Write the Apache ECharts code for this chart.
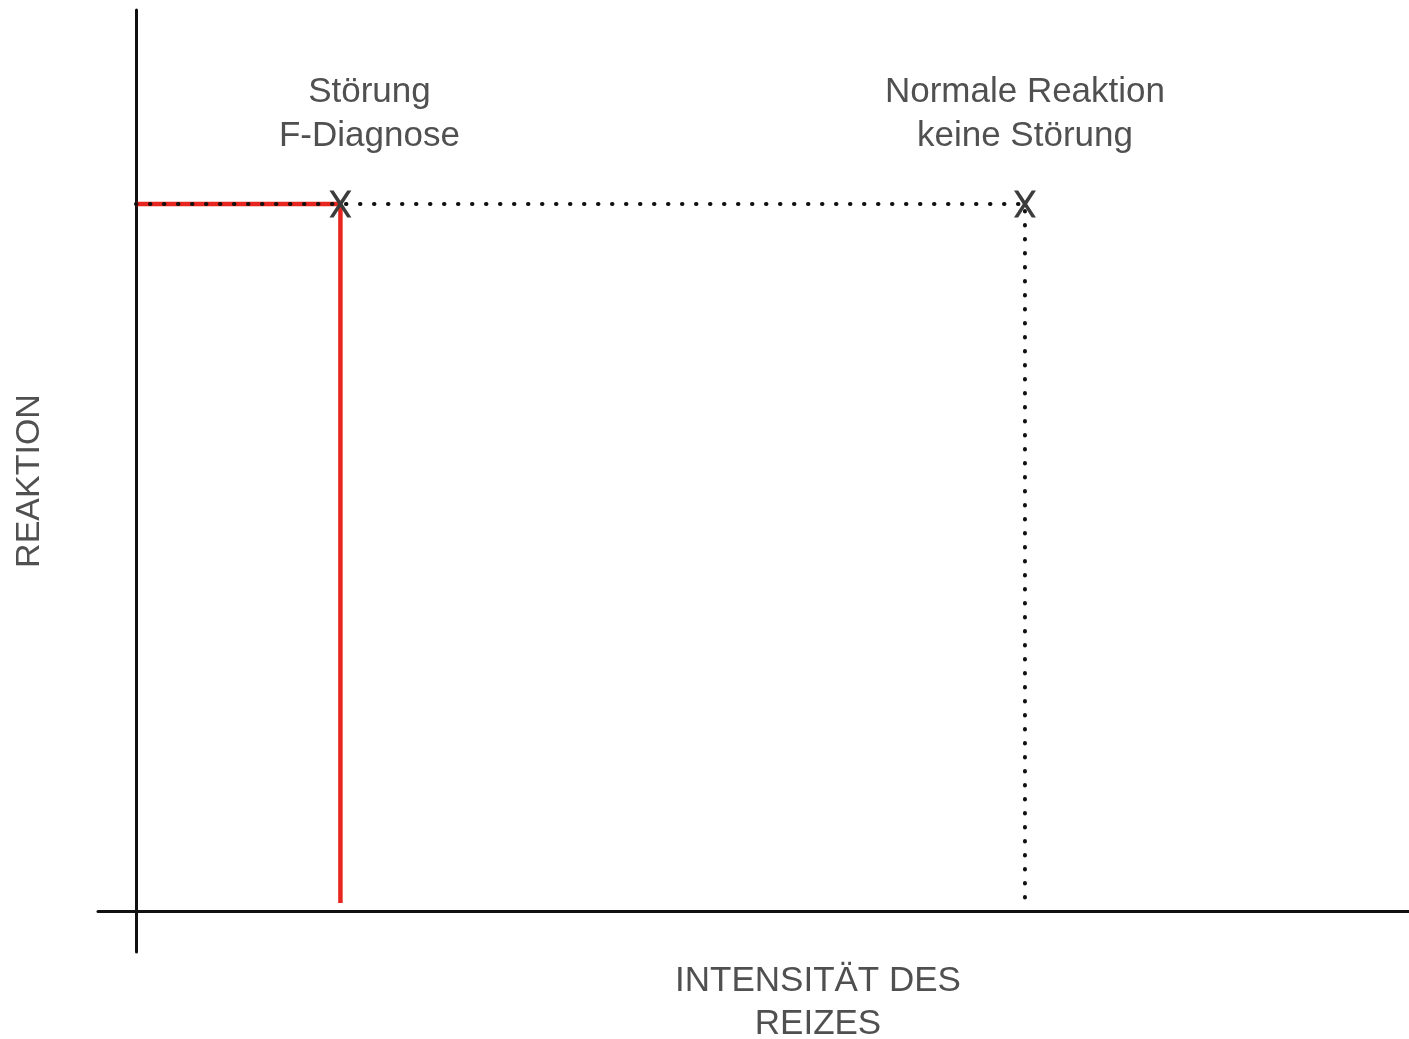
<!DOCTYPE html>
<html>
<head>
<meta charset="utf-8">
<script src="https://cdn.jsdelivr.net/npm/echarts@6/dist/echarts.min.js"></script>
<style>
html,body{margin:0;padding:0;background:#fff;}
#chart{width:1409px;height:1039px;}
</style>
</head>
<body>
<div id="chart"></div>
<script>
// ---- data ----
const pointLabels = ['Störung\nF-Diagnose', 'Normale Reaktion\nkeine Störung'];
const intensity = [2.3, 10];      // Intensität des Reizes
const reaction = [7, 7];          // Reaktion
const dropEnd = 0.08;             // where the vertical guide lines end
const xAxisTitle = 'INTENSITÄT DES\nREIZES';
const yAxisTitle = 'REAKTION';

const FONT = "'Liberation Sans', Arial, Helvetica, sans-serif";
const TEXT = '#505050';
const xPath = 'path://M0,0L4,0L10.5,10L17,0L21,0L12.6,13L21,26L17,26L10.5,16L4,26L0,26L8.4,13Z';

const redPath = [[0, reaction[0]], [intensity[0], reaction[0]], [intensity[0], dropEnd]];
const dotPath = [[0, reaction[1]], [intensity[1], reaction[1]], [intensity[1], dropEnd]];

const chart = echarts.init(document.getElementById('chart'));
chart.setOption({
  animation: false,
  backgroundColor: '#fff',
  grid: {left: 98, right: 0, top: 10, bottom: 87, containLabel: false},
  xAxis: {
    type: 'value', min: -0.427, max: 14.32,
    axisLine: {onZero: true, lineStyle: {color: '#111', width: 3}},
    axisTick: {show: false}, axisLabel: {show: false}, splitLine: {show: false}
  },
  yAxis: {
    type: 'value', min: -0.406, max: 8.92,
    axisLine: {onZero: true, lineStyle: {color: '#111', width: 3}},
    axisTick: {show: false}, axisLabel: {show: false}, splitLine: {show: false}
  },
  series: [
    {
      type: 'line', data: redPath, symbol: 'none', z: 2,
      lineStyle: {color: '#e8261f', width: 4.5}
    },
    {
      type: 'line', data: dotPath, symbol: 'none', z: 3,
      lineStyle: {color: '#111', width: 4, type: [0.5, 13.5], cap: 'round'}
    },
    {
      type: 'scatter', z: 4,
      symbol: xPath, symbolSize: [22, 27],
      itemStyle: {color: '#3c3c3c', opacity: 1},
      data: intensity.map((x, i) => ({
        value: [x, reaction[i]],
        label: {
          show: true, position: 'top', distance: 32,
          offset: i === 0 ? [29, 0] : [0, 0],
          formatter: pointLabels[i],
          fontSize: 35, lineHeight: 44, color: TEXT, fontFamily: FONT, align: 'center'
        }
      }))
    }
  ],
  graphic: [
    {
      type: 'text', x: 818, y: 1003,
      style: {text: xAxisTitle, font: '35px ' + FONT, fill: TEXT, align: 'center', verticalAlign: 'middle', lineHeight: 43}
    },
    {
      type: 'text', x: 30, y: 481, rotation: Math.PI / 2,
      style: {text: yAxisTitle, font: '34px ' + FONT, fill: TEXT, align: 'center', verticalAlign: 'middle'}
    }
  ]
});
</script>
</body>
</html>
